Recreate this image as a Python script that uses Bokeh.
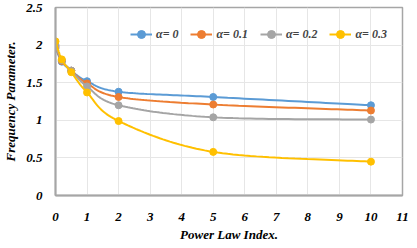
from bokeh.plotting import figure
from bokeh.models import FixedTicker, Range1d
from bokeh.embed import file_html
from bokeh.resources import INLINE
import numpy as np

x_vals = [0, 0.2, 0.5, 1, 2, 5, 10]
alpha0 = [1.96, 1.78, 1.66, 1.52, 1.38, 1.31, 1.20]
alpha01 = [1.98, 1.79, 1.66, 1.49, 1.31, 1.21, 1.13]
alpha02 = [2.00, 1.80, 1.66, 1.45, 1.20, 1.04, 1.01]
alpha03 = [2.05, 1.81, 1.64, 1.37, 0.99, 0.58, 0.45]
labels = ["α= 0", "α= 0.1", "α= 0.2", "α= 0.3"]
colors = ["#5B9BD5", "#ED7D31", "#A5A5A5", "#FFC000"]
x_ticks = list(range(0, 12))
y_ticks = [0, 0.5, 1, 1.5, 2, 2.5]
y_tick_labels = {0: "0", 0.5: "0.5", 1: "1", 1.5: "1.5", 2: "2", 2.5: "2.5"}


def smooth(xs, ys, n=30):
    # Catmull-Rom style Bezier smoothing (as in spreadsheet smoothed lines)
    P = np.column_stack([xs, ys]).astype(float)
    out = []
    for i in range(len(P) - 1):
        p0 = P[i - 1] if i > 0 else P[i]
        p1 = P[i]
        p2 = P[i + 1]
        p3 = P[i + 2] if i + 2 < len(P) else P[i + 1]
        c1 = p1 + (p2 - p0) / 6.0
        c2 = p2 - (p3 - p1) / 6.0
        t = np.linspace(0, 1, n)[:, None]
        seg = ((1 - t) ** 3) * p1 + 3 * ((1 - t) ** 2) * t * c1 + 3 * (1 - t) * t ** 2 * c2 + t ** 3 * p2
        out.append(seg if i == 0 else seg[1:])
    arr = np.vstack(out)
    return arr[:, 0], arr[:, 1]


FONT = "Liberation Serif"

p = figure(frame_width=347, frame_height=188, output_backend="svg", toolbar_location=None,
           x_range=Range1d(0, 11), y_range=Range1d(0, 2.5),
           min_border_left=46, min_border_right=8, min_border_top=7, min_border_bottom=37)

p.outline_line_color = "#A6A6A6"
p.outline_line_width = 1.5

series = [alpha0, alpha01, alpha02, alpha03]
for ys, lab, col in zip(series, labels, colors):
    sx, sy = smooth(x_vals, ys)
    p.line(sx, sy, line_color=col, line_width=2, legend_label=lab)
    p.scatter(x_vals, ys, size=7, fill_color=col, line_color=col, legend_label=lab)

for ax in (p.xaxis, p.yaxis):
    ax.axis_line_color = "#A6A6A6"
    ax.axis_line_width = 2
    ax.major_tick_line_color = None
    ax.minor_tick_line_color = None
    ax.major_label_text_font = FONT
    ax.major_label_text_font_style = "bold italic"
    ax.major_label_text_font_size = "13px"
    ax.major_label_text_color = "#000000"
    ax.axis_label_text_font = FONT
    ax.axis_label_text_font_style = "bold italic"
    ax.axis_label_text_font_size = "13px"
    ax.axis_label_text_color = "#000000"

p.xaxis.ticker = FixedTicker(ticks=x_ticks)
p.yaxis.ticker = FixedTicker(ticks=y_ticks)
p.yaxis.major_label_overrides = y_tick_labels
p.xaxis.axis_label = "Power Law Index."
p.yaxis.axis_label = "Frequency Parameter."
p.xaxis.major_label_standoff = 11
p.yaxis.major_label_standoff = 7
p.xaxis.axis_label_standoff = 3
p.yaxis.axis_label_standoff = 5

p.xgrid.ticker = FixedTicker(ticks=x_ticks)
p.ygrid.ticker = FixedTicker(ticks=y_ticks)
p.xgrid.grid_line_color = "#E6E6E6"
p.ygrid.grid_line_color = "#E6E6E6"

leg = p.legend[0]
leg.orientation = "horizontal"
leg.location = (75, 151)
leg.border_line_color = None
leg.background_fill_alpha = 0
leg.label_text_font = FONT
leg.label_text_font_style = "bold italic"
leg.label_text_font_size = "12px"
leg.glyph_width = 22
leg.label_standoff = 4
leg.spacing = 12
leg.margin = 0
leg.padding = 4

open("out.html", "w").write(file_html(p, INLINE))
